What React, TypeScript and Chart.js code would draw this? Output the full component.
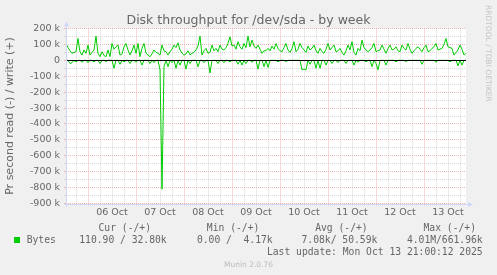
import React, { useEffect, useRef } from 'react';
import { Chart, registerables } from 'chart.js';

Chart.register(...registerables);

const W = 497;
const H = 275;

// Hourly samples, hour 0 = Oct 5 13:00, hour 200 = Oct 13 21:00 (values in kB/s)
const writeK: number[] = [
  106, 80, 60, 44, 50, 54, 137, 54, 33, 65,
  44, 96, 33, 50, 65, 152, 44, 23, 54, 30,
  23, 65, 23, 106, 70, 85, 96, 33, 40, 85,
  106, 65, 33, 60, 96, 44, 106, 23, 75, 106,
  45, 33, 23, 40, 65, 50, 44, 33, 96, 60,
  54, 33, 54, 70, 96, 80, 110, 65, 45, 33,
  40, 60, 35, 44, 50, 65, 90, 152, 33, 60,
  75, 44, 50, 96, 60, 75, 55, 96, 70, 65,
  80, 106, 148, 90, 96, 70, 117, 85, 70, 106,
  80, 152, 85, 127, 90, 75, 96, 70, 44, 60,
  60, 75, 60, 90, 70, 106, 75, 60, 54, 80,
  106, 65, 50, 75, 117, 54, 70, 106, 80, 65,
  50, 90, 65, 75, 96, 60, 44, 75, 55, 44,
  70, 106, 65, 80, 96, 54, 60, 75, 50, 33,
  60, 96, 65, 117, 50, 33, 75, 60, 127, 80,
  65, 55, 65, 80, 106, 54, 60, 65, 96, 70,
  44, 75, 96, 65, 70, 85, 60, 54, 96, 75,
  65, 106, 70, 44, 60, 75, 85, 70, 54, 80,
  96, 54, 60, 75, 85, 106, 65, 70, 75, 100,
  137, 85, 80, 75, 33, 50, 65, 96, 70, 33,
  44,
];

const readK: number[] = [
  0, 0, 20, 15, 0, 10, 0, 0, 12, 0,
  0, 15, 0, 0, 10, 0, 0, 20, 0, 0,
  8, 0, 0, 0, 50, 0, 0, 25, 0, 10,
  0, 0, 20, 0, 0, 12, 0, 0, 30, 0,
  0, 0, 20, 0, 15, 0, 0, 60, 810, 40,
  0, 40, 0, 15, 0, 50, 0, 30, 0, 0,
  55, 0, 20, 0, 0, 0, 40, 0, 0, 15,
  0, 0, 80, 0, 0, 0, 20, 0, 0, 15,
  0, 0, 10, 0, 0, 0, 25, 0, 30, 0,
  20, 0, 0, 12, 0, 0, 55, 0, 0, 40,
  0, 45, 0, 0, 0, 0, 10, 0, 0, 0,
  8, 0, 0, 0, 0, 0, 0, 0, 60, 55,
  60, 0, 25, 0, 0, 50, 0, 50, 0, 0,
  30, 0, 0, 20, 0, 0, 15, 0, 0, 0,
  20, 0, 0, 0, 30, 0, 12, 0, 0, 0,
  10, 0, 0, 40, 0, 20, 60, 0, 0, 0,
  30, 0, 0, 0, 0, 10, 0, 0, 0, 0,
  8, 0, 0, 0, 0, 0, 0, 0, 25, 0,
  0, 0, 0, 0, 0, 12, 0, 0, 0, 0,
  0, 0, 10, 0, 0, 0, 35, 0, 30, 0,
  0,
];

const dayLabels = ['06 Oct', '07 Oct', '08 Oct', '09 Oct', '10 Oct', '11 Oct', '12 Oct', '13 Oct'];
const firstMidnightHour = 11; // Oct 6 00:00
const xMax = 200;
const yMin = -900;
const yMax = 200;

const title = 'Disk throughput for /dev/sda - by week';
const yTitle = 'Pr second read (-) / write (+)';
const legendHeaders = ['Cur (-/+)', 'Min (-/+)', 'Avg (-/+)', 'Max (-/+)'];
const legendName = 'Bytes';
const legendValues = ['110.90 / 32.80k', '0.00 /  4.17k', '7.08k/ 50.59k', '4.01M/661.96k'];
const lastUpdate = 'Last update: Mon Oct 13 21:00:12 2025';
const watermark = 'Munin 2.0.76';
const sideText = 'RRDTOOL / TOBI OETIKER';

const GREEN = '#00cc00';
const FONT_COLOR = '#666666';
const AXIS_COLOR = '#cfd6f8';
const MAJOR = '#efb4b4';
const MINOR = '#d8d8d8';

const muninPlugin = {
  id: 'muninDecor',
  beforeDraw(chart: any) {
    const { ctx, chartArea: a } = chart;
    ctx.save();
    ctx.fillStyle = '#f0f0f0';
    ctx.fillRect(0, 0, W, H);
    ctx.fillStyle = '#ffffff';
    ctx.fillRect(a.left, a.top, a.right - a.left, a.bottom - a.top);
    ctx.restore();
  },
  afterDatasetsDraw(chart: any) {
    const { ctx, chartArea: a } = chart;
    const y0 = Math.round(chart.scales.y.getPixelForValue(0)) + 0.5;
    ctx.save();
    ctx.strokeStyle = '#000000';
    ctx.lineWidth = 1;
    ctx.beginPath();
    ctx.moveTo(a.left, y0);
    ctx.lineTo(a.right, y0);
    ctx.stroke();
    ctx.restore();
  },
  afterDraw(chart: any) {
    const { ctx, chartArea: a } = chart;
    ctx.save();
    // axes with arrows
    const lx = Math.round(a.left) + 0.5;
    const by = Math.round(a.bottom) + 0.5;
    ctx.strokeStyle = AXIS_COLOR;
    ctx.fillStyle = AXIS_COLOR;
    ctx.lineWidth = 1;
    ctx.beginPath();
    ctx.moveTo(lx, by + 2);
    ctx.lineTo(lx, a.top - 4);
    ctx.moveTo(lx - 2, by);
    ctx.lineTo(a.right + 3, by);
    ctx.stroke();
    ctx.beginPath();
    ctx.moveTo(lx - 2.5, a.top - 2);
    ctx.lineTo(lx + 2.5, a.top - 2);
    ctx.lineTo(lx, a.top - 7);
    ctx.closePath();
    ctx.fill();
    ctx.beginPath();
    ctx.moveTo(a.right + 2, by - 2.5);
    ctx.lineTo(a.right + 2, by + 2.5);
    ctx.lineTo(a.right + 7, by);
    ctx.closePath();
    ctx.fill();

    // title
    ctx.fillStyle = FONT_COLOR;
    ctx.font = '12.5px "DejaVu Sans"';
    ctx.textAlign = 'center';
    ctx.textBaseline = 'alphabetic';
    ctx.fillText(title, W / 2, 24);

    // y title
    ctx.save();
    ctx.translate(10.5, (a.top + a.bottom) / 2);
    ctx.rotate(-Math.PI / 2);
    ctx.font = '11px "DejaVu Sans"';
    ctx.textBaseline = 'middle';
    ctx.textAlign = 'center';
    ctx.fillText(yTitle, 0, 0);
    ctx.restore();

    // side watermark
    ctx.save();
    ctx.translate(488, 5);
    ctx.rotate(Math.PI / 2);
    ctx.font = '7.5px "DejaVu Sans"';
    ctx.fillStyle = '#c4c4c4';
    ctx.textAlign = 'left';
    ctx.textBaseline = 'middle';
    ctx.fillText(sideText, 0, 0);
    ctx.restore();

    // legend
    ctx.font = '9.7px "DejaVu Sans Mono"';
    ctx.fillStyle = FONT_COLOR;
    ctx.textBaseline = 'alphabetic';
    ctx.textAlign = 'right';
    const headRight = [151, 259.3, 367.7, 476];
    const valRight = [166.7, 272.7, 377.3, 482.7];
    legendHeaders.forEach((t, i) => ctx.fillText(t, headRight[i], 231));
    legendValues.forEach((t, i) => ctx.fillText(t, valRight[i], 243));
    ctx.fillText(lastUpdate, 482.7, 254.8);
    ctx.textAlign = 'left';
    ctx.fillText(legendName, 26.7, 243);
    ctx.fillStyle = GREEN;
    ctx.fillRect(14, 237, 6, 6);

    // munin version
    ctx.font = '7.5px "DejaVu Sans"';
    ctx.fillStyle = '#bbbbbb';
    ctx.textAlign = 'center';
    ctx.fillText(watermark, 248.5, 266.5);
    ctx.restore();
  },
};

export default function App() {
  const ref = useRef<HTMLCanvasElement>(null);
  useEffect(() => {
    const canvas = ref.current;
    if (!canvas) return;
    const isMidnight = (h: number) => (h - firstMidnightHour) % 24 === 0;
    const chart = new Chart(canvas, {
      type: 'line',
      data: {
        datasets: [
          {
            label: 'write',
            data: writeK.map((v, i) => ({ x: i, y: v })),
            borderColor: GREEN,
            borderWidth: 1,
            pointRadius: 0,
            tension: 0,
          },
          {
            label: 'read',
            data: readK.map((v, i) => ({ x: i, y: -v })),
            borderColor: GREEN,
            borderWidth: 1,
            pointRadius: 0,
            tension: 0,
          },
        ],
      },
      options: {
        animation: false,
        responsive: false,
        devicePixelRatio: 1,
        layout: { padding: { left: 0, top: 28.5, right: 31, bottom: 51.5 } },
        plugins: {
          legend: { display: false },
          title: { display: false },
          tooltip: { enabled: false },
        },
        scales: {
          x: {
            type: 'linear',
            min: 0,
            max: xMax,
            afterBuildTicks: (scale: any) => {
              const t = [];
              for (let h = firstMidnightHour % 6; h <= xMax; h += 6) t.push({ value: h });
              scale.ticks = t;
            },
            afterFit: (scale: any) => {
              scale.height = 20;
            },
            grid: {
              color: (ctx: any) => (isMidnight(ctx.tick?.value ?? 0) ? MAJOR : MINOR),
              lineWidth: 1,
              drawTicks: true,
              tickLength: 2,
            },
            border: { display: false, dash: [1, 1] },
            ticks: {
              autoSkip: false,
              maxRotation: 0,
              minRotation: 0,
              padding: 1,
              color: FONT_COLOR,
              font: { family: '"DejaVu Sans"', size: 9.5 },
              callback: (v: any) => {
                const h = Number(v);
                const k = (h - firstMidnightHour - 12) / 24;
                return Number.isInteger(k) && k >= 0 && k < dayLabels.length ? dayLabels[k] : '';
              },
            },
          },
          y: {
            type: 'linear',
            min: yMin,
            max: yMax,
            afterBuildTicks: (scale: any) => {
              const t = [];
              for (let v = yMin; v <= yMax; v += 50) t.push({ value: v });
              scale.ticks = t;
            },
            afterFit: (scale: any) => {
              scale.width = 66;
            },
            grid: {
              color: (ctx: any) => ((ctx.tick?.value ?? 1) % 100 === 0 ? MAJOR : MINOR),
              lineWidth: 1,
              drawTicks: true,
              tickLength: 2,
            },
            border: { display: false, dash: [1, 1] },
            ticks: {
              autoSkip: false,
              padding: 4,
              color: FONT_COLOR,
              font: { family: '"DejaVu Sans"', size: 9.5 },
              callback: (v: any) => {
                const n = Number(v);
                if (n % 100 !== 0) return '';
                return n === 0 ? '0' : `${n} k`;
              },
            },
          },
        },
      },
      plugins: [muninPlugin],
    } as any);
    return () => chart.destroy();
  }, []);

  return (
    <div style={{ position: 'fixed', left: 0, top: 0, width: W, height: H, background: '#f0f0f0' }}>
      <canvas ref={ref} width={W} height={H} style={{ display: 'block', width: W, height: H }} />
    </div>
  );
}
